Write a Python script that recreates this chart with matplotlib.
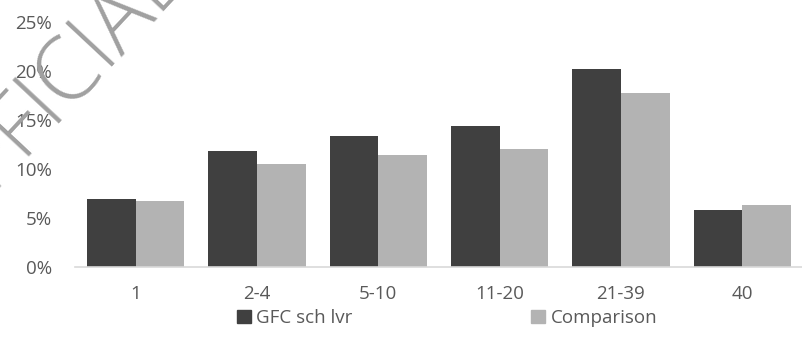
import numpy as np
import matplotlib
matplotlib.use("Agg")
import matplotlib.pyplot as plt
from matplotlib.patches import Patch

categories = ["1", "2-4", "5-10", "11-20", "21-39", "40"]
gfc_sch_lvr = [6.9, 11.8, 13.4, 14.4, 20.25, 5.8]
comparison = [6.75, 10.5, 11.4, 12.0, 17.75, 6.3]
yticks = [0, 5, 10, 15, 20, 25]

DARK = "#404040"
LIGHT = "#b3b3b3"
TXT = "#595959"

plt.rcParams["font.family"] = ["Open Sans", "DejaVu Sans"]

W, H = 803, 343
fig = plt.figure(figsize=(W / 100, H / 100), dpi=100)
ax = fig.add_axes([75 / W, (H - 267) / H, (W - 75) / W, (267 - 22) / H])

x = np.arange(len(categories))
bw = 0.4
ax.bar(x - bw / 2, gfc_sch_lvr, bw, color=DARK, zorder=2)
ax.bar(x + bw / 2, comparison, bw, color=LIGHT, zorder=2)

ax.set_xlim(-0.5, len(categories) - 0.5)
ax.set_ylim(0, 25)
ax.set_yticks(yticks)
ax.set_yticklabels([f"{v}%" for v in yticks])
ax.set_xticks(x)
ax.set_xticklabels(categories)
ax.tick_params(axis="both", length=0, labelsize=13.5, colors=TXT)
ax.tick_params(axis="x", pad=13)
ax.tick_params(axis="y", pad=16.5)
for s in ("top", "right", "left"):
    ax.spines[s].set_visible(False)
ax.spines["bottom"].set_color("#d9d9d9")
ax.spines["bottom"].set_linewidth(1.2)

handles = [Patch(color=DARK, label="GFC sch lvr"), Patch(color=LIGHT, label="Comparison")]
leg = fig.legend(handles=handles, loc="center", bbox_to_anchor=(447 / W, 1 - 318 / H),
                 ncol=2, frameon=False, fontsize=13.5, handlelength=0.75, handleheight=0.75,
                 handletextpad=0.3, columnspacing=9.5, borderpad=0)
for t in leg.get_texts():
    t.set_color(TXT)

# watermark, mostly off the top-left edge
fig.text(188 / W, 1 + 20 / H, "OFFICIAL", rotation=47, rotation_mode="anchor",
         ha="right", va="baseline", fontsize=64, color="#a0a0a0", fontweight="light",
         zorder=10)

fig.savefig("out.png", dpi=100)
